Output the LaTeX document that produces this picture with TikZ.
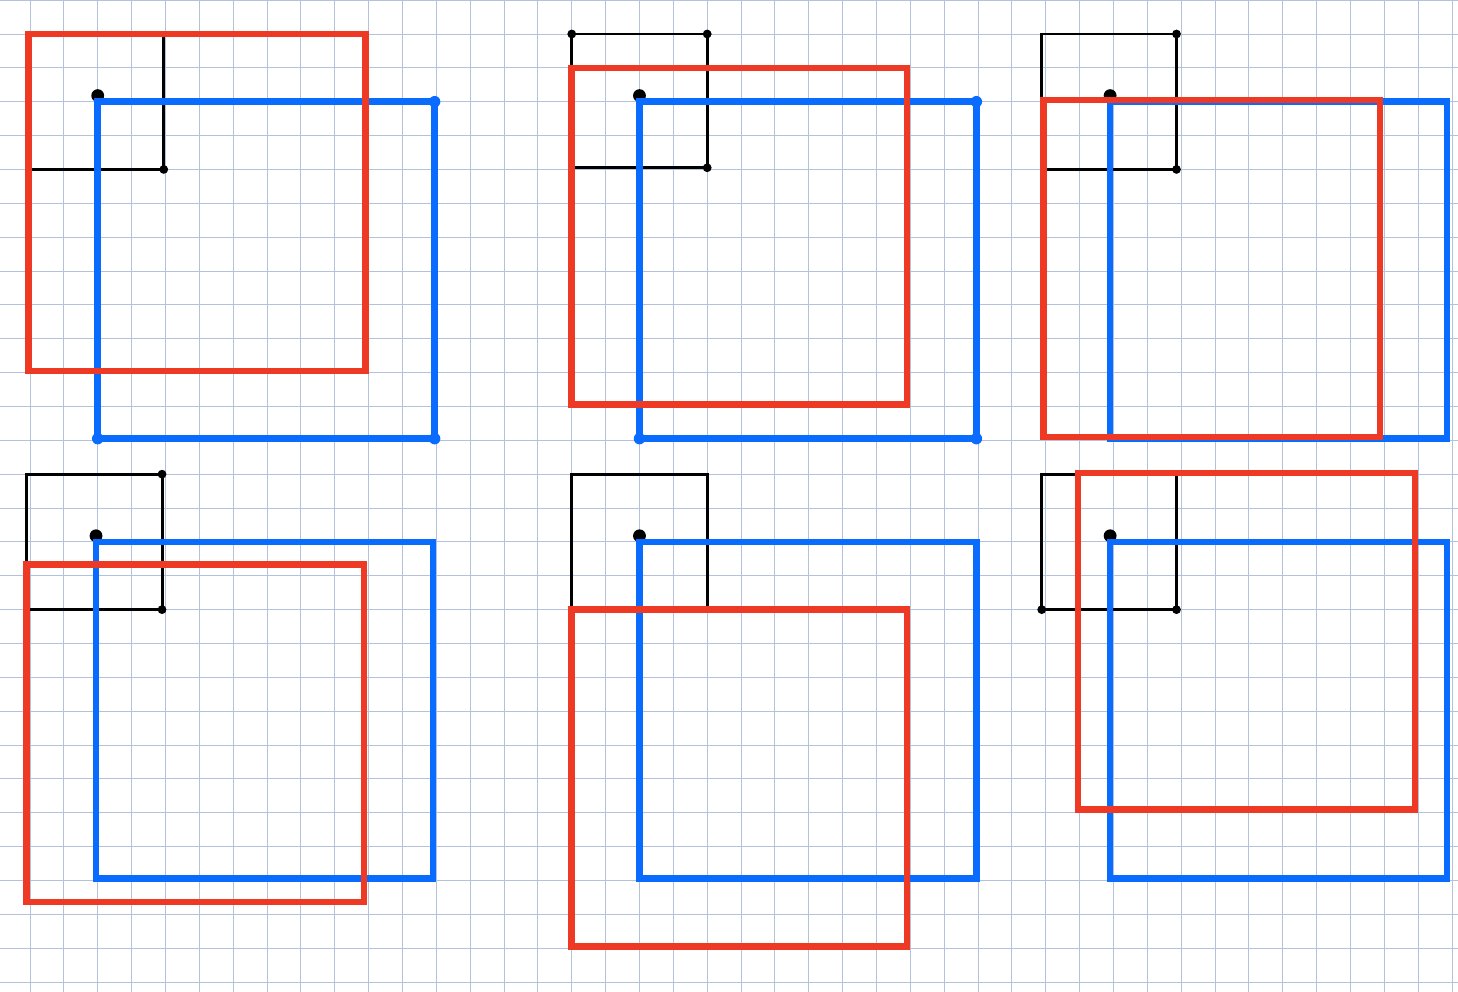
\documentclass[tikz,border=0pt]{standalone}
\usepackage{xcolor}
\usepackage{tikz}
\definecolor{sqred}{HTML}{EE3A24}
\definecolor{sqblue}{HTML}{0A6BFF}
\definecolor{paper}{HTML}{B2C1DC}
\begin{document}
\begin{tikzpicture}[
  line join=miter,
  gridline/.style={draw=paper,line width=0.8pt},
  frame/.style={draw=black,line width=2.5pt},
  bluesq/.style={draw=sqblue,line width=5.6pt},
  redsq/.style={draw=sqred,line width=5.6pt},
  pin/.style={fill=black},
  jot/.style={fill=black},
  bjot/.style={fill=sqblue}]

% ---- paper: one cell is 1cm, y runs downward as negative ----------------
\useasboundingbox (-0.886,-28.293) rectangle (42.174,1.004);
\draw[gridline] (-0.886,-28.293) grid (42.174,1.004);

% ---- the small black frames ----------------------------------------------
\draw[frame] (-0.05,0)  rectangle (3.95,-4);
\draw[frame] (16,0)     rectangle (20,-3.95);
\draw[frame] (29.88,0)  rectangle (33.86,-4);
\draw[frame] (-0.1,-13) rectangle (3.9,-17);
\draw[frame] (16,-13)   rectangle (20,-17);
\draw[frame] (29.88,-13) rectangle (33.86,-17);
\foreach \p in {(3.95,-4),(16,0),(20,0),(20,-3.95),(33.86,0),(33.86,-4),
                (3.9,-13),(3.9,-17),(29.88,-17),(33.86,-17)}
  \fill[jot] \p circle (0.13);

% ---- pins at the top left corner of every blue square --------------------
\foreach \p in {(2,-2),(18,-2),(31.9,-2),(1.95,-15),(18,-15),(31.9,-15)}
  \fill[pin] \p ++(0,0.18) circle (0.19);

% ---- blue squares, all 10x10 ---------------------------------------------
\draw[bluesq] (2,-2)      rectangle (11.95,-11.95);
\draw[bluesq] (18,-2)     rectangle (27.95,-11.95);
\draw[bluesq] (31.9,-2)   rectangle (41.85,-11.95);
\draw[bluesq] (1.95,-15)  rectangle (11.9,-24.95);
\draw[bluesq] (18,-15)    rectangle (27.95,-24.95);
\draw[bluesq] (31.9,-15)  rectangle (41.85,-24.95);
\foreach \p in {(11.95,-2),(2,-11.95),(11.95,-11.95),
                (27.95,-2),(18,-11.95),(27.95,-11.95)}
  \fill[bjot] \p circle (0.17);

% ---- red squares, shifted against the blue ones --------------------------
\draw[redsq] (-0.05,0)    rectangle (9.9,-9.95);
\draw[redsq] (16,-1)      rectangle (25.9,-10.95);
\draw[redsq] (29.93,-1.95) rectangle (39.87,-11.9);
\draw[redsq] (-0.1,-15.67) rectangle (9.86,-25.63);
\draw[redsq] (16,-17)     rectangle (25.9,-26.94);
\draw[redsq] (30.95,-12.97) rectangle (40.9,-22.9);
\end{tikzpicture}
\end{document}
